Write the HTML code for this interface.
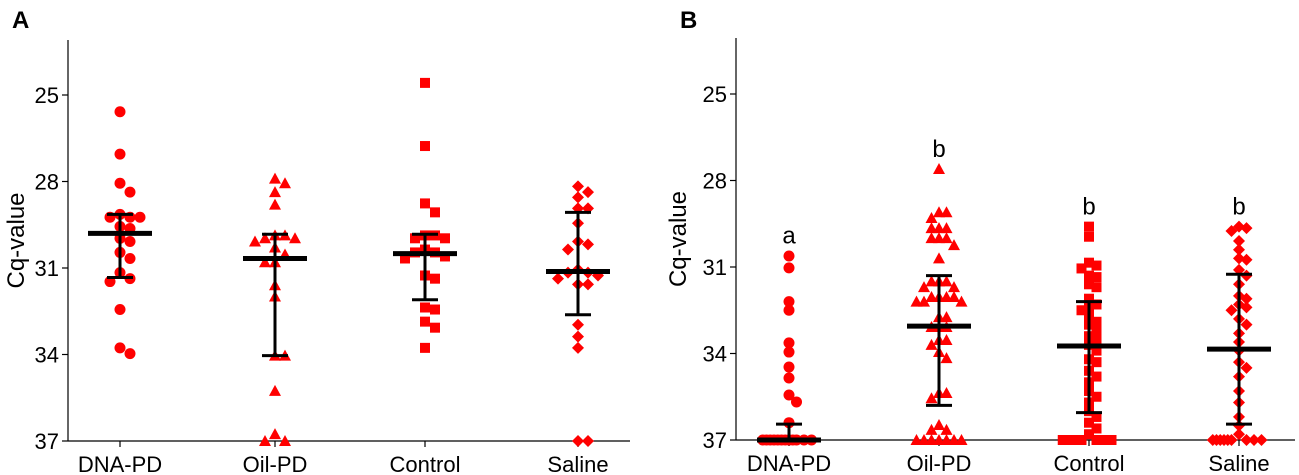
<!DOCTYPE html>
<html><head><meta charset="utf-8"><style>
body{margin:0;background:#fff;}
svg{display:block;font-family:"Liberation Sans",Arial,sans-serif;}
</style></head><body>
<svg id="chart" width="1299" height="475"></svg>
<script>
const categories=["DNA-PD","Oil-PD","Control","Saline"];
const tickValues=[25,28,31,34,37];
const aDNA=[25.58,27.05,28.06,28.37,29.14,29.24,29.24,29.24,29.56,29.63,29.97,30.08,30.46,30.67,31.16,31.37,31.47,32.44,33.77,33.97];
const aOil=[27.9,28.06,28.37,28.8,29.87,29.87,29.97,29.97,30.08,30.29,30.53,30.8,30.8,31.6,31.99,34.04,34.04,35.26,36.76,37,37];
const aCtrl=[24.58,26.77,28.76,29.07,29.87,29.87,29.97,29.97,30.36,30.46,30.46,30.6,30.67,31.26,31.37,32.37,32.44,32.86,33.07,33.77];
const aSal=[28.17,28.37,28.55,28.93,28.93,29.45,30.08,30.18,30.36,31.05,31.16,31.16,31.26,31.37,31.57,31.57,32.97,33.38,33.77,37,37];
const aMean=[29.8,30.67,30.5,31.12];
const aLow=[29.14,29.83,29.83,29.07];
const aHigh=[31.33,34.04,32.1,32.62];
const bDNA=[30.62,31.03,32.2,32.5,33.63,33.95,34.47,34.85,35.44,35.68,36.4,37,37,37,37,37,37,37,37,37,37,37,37];
const bOil=[27.6,29.1,29.1,29.3,29.65,29.65,29.65,30,30,30,30.24,30.7,31.5,31.5,31.5,31.7,31.7,32.04,32.04,32.04,32.04,32.2,32.2,32.2,32.74,32.74,33.08,33.08,33.08,33.53,33.53,33.7,33.95,34.16,35.37,35.37,35.55,36.48,36.65,36.65,37,37,37,37,37,37,37];
const bCtrl=[29.6,29.95,30.85,30.95,31.05,31.3,31.35,31.6,31.7,32.1,32.3,32.4,32.5,32.7,32.9,33.0,33.2,33.4,33.5,33.7,33.9,34.2,34.3,34.6,34.8,35.0,35.3,35.5,35.7,36.0,36.2,36.4,36.6,36.8,37,37,37,37,37,37,37];
const bSal=[29.6,29.65,29.75,30.1,30.4,30.7,30.75,31.1,31.3,31.6,32.0,32.1,32.3,32.4,32.5,32.8,33.0,33.3,33.6,33.9,34.3,34.5,34.8,35.3,35.7,36.2,36.5,36.8,37,37,37,37,37,37,37,37,37];
const bMean=[37,33.05,33.74,33.85];
const bLow=[36.45,31.3,32.2,31.25];
const bHigh=[37,35.8,36.05,36.45];
const bLetters=["a","b","b","b"];
const bLetterVal=[29.9,26.9,28.9,28.9];

const NS="http://www.w3.org/2000/svg";
const svg=document.getElementById("chart");
function mk(tag,attrs,parent){const e=document.createElementNS(NS,tag);for(const k in attrs)e.setAttribute(k,attrs[k]);(parent||svg).appendChild(e);return e;}
const shapes=["circle","triangle","square","diamond"];
function marker(g,shape,x,y){
  let e;
  if(shape==="circle")e=mk("circle",{cx:x,cy:y,r:5.5,fill:"#ff0000"},g);
  else if(shape==="triangle")e=mk("polygon",{points:`${x},${y-6} ${x+6},${y+5} ${x-6},${y+5}`,fill:"#ff0000"},g);
  else if(shape==="square")e=mk("rect",{x:x-5,y:y-5,width:10,height:10,fill:"#ff0000"},g);
  else e=mk("polygon",{points:`${x},${y-6} ${x+6},${y} ${x},${y+6} ${x-6},${y}`,fill:"#ff0000"},g);
  return e;
}
function panel(cfg){
  const {x0,x1,yTop,yBot,v25,v37,cx,data,mean,low,high,label,titleX,panelX,step,maxOff}=cfg;
  const yS=v=>v25+(v-25)*(v37-v25)/12;
  const g=mk("g",{});
  
  
  const pl=mk("text",{x:panelX,y:28,"font-size":24,"font-weight":"bold"},g);pl.textContent=label;
  
  const ya=mk("line",{x1:x0,y1:yTop,x2:x0,y2:yBot,stroke:"#000","stroke-width":1.2},g);
  
  const xa=mk("line",{x1:x0,y1:yBot,x2:x1,y2:yBot,stroke:"#000","stroke-width":1.2},g);
  
  tickValues.forEach(v=>{
    const y=yS(v);
    mk("line",{x1:x0-6,y1:y,x2:x0,y2:y,stroke:"#000","stroke-width":1.2},g);
    const t=mk("text",{x:x0-9,y:y+8,"font-size":22,"text-anchor":"end"},g);t.textContent=v;
    
  });
  const yt=mk("text",{x:titleX,y:(yTop+yBot)/2,"font-size":24,"text-anchor":"middle",transform:`rotate(-90 ${titleX} ${(yTop+yBot)/2})`},g);
  yt.textContent="Cq-value";
  categories.forEach((c,i)=>{
    const x=cx[i];
    mk("line",{x1:x,y1:yBot,x2:x,y2:yBot+6,stroke:"#000","stroke-width":1.2},g);
    const t=mk("text",{x:x,y:yBot+31,"font-size":22,"text-anchor":"middle"},g);t.textContent=c;
    
    const placed=[];
    const vals=data[i].slice().sort((a,b)=>a-b);
    const sg=mk("g",{},g);
    
    let fallback=0;
    vals.forEach(v=>{
      const y=Math.min(yS(v),yBot);
      let ox=null;
      for(let k=0;k<40;k++){
        const off=(k%2?1:-1)*Math.ceil(k/2)*step;
        if(Math.abs(off)>maxOff)break;
        const ok=placed.every(p=>Math.hypot(p[0]-(x+off),p[1]-y)>=step);
        if(ok){ox=off;break;}
      }
      if(ox===null){ox=((fallback%8)-3.5)*step;fallback++;}
      placed.push([x+ox,y]);
      const m=marker(sg,shapes[i],x+ox,y);
      
      
    });
    const eg=mk("g",{stroke:"#000"},g);
    
    mk("line",{x1:x,y1:yS(low[i]),x2:x,y2:yS(high[i]),"stroke-width":3},eg);
    mk("line",{x1:x-13,y1:yS(low[i]),x2:x+13,y2:yS(low[i]),"stroke-width":3},eg);
    mk("line",{x1:x-13,y1:yS(high[i]),x2:x+13,y2:yS(high[i]),"stroke-width":3},eg);
    const ml=mk("line",{x1:x-32,y1:yS(mean[i]),x2:x+32,y2:yS(mean[i]),"stroke-width":5},eg);
    
  });
  return yS;
}
panel({x0:68,x1:630,yTop:40,yBot:441,v25:95,v37:441,cx:[120,275,425,578],data:[aDNA,aOil,aCtrl,aSal],mean:aMean,low:aLow,high:aHigh,label:"A",titleX:24,panelX:12,step:10,maxOff:40});
const bX=[789,939,1089,1239];
const yB=panel({x0:736,x1:1295,yTop:38,yBot:440,v25:94,v37:440,cx:bX,data:[bDNA,bOil,bCtrl,bSal],mean:bMean,low:bLow,high:bHigh,label:"B",titleX:686,panelX:680,step:7.5,maxOff:28});
bX.forEach((x,i)=>{
  const t=mk("text",{x:x,y:yB(bLetterVal[i])+8,"font-size":24,"text-anchor":"middle"});
  t.textContent=bLetters[i];
  
  
});
</script>
</body></html>
